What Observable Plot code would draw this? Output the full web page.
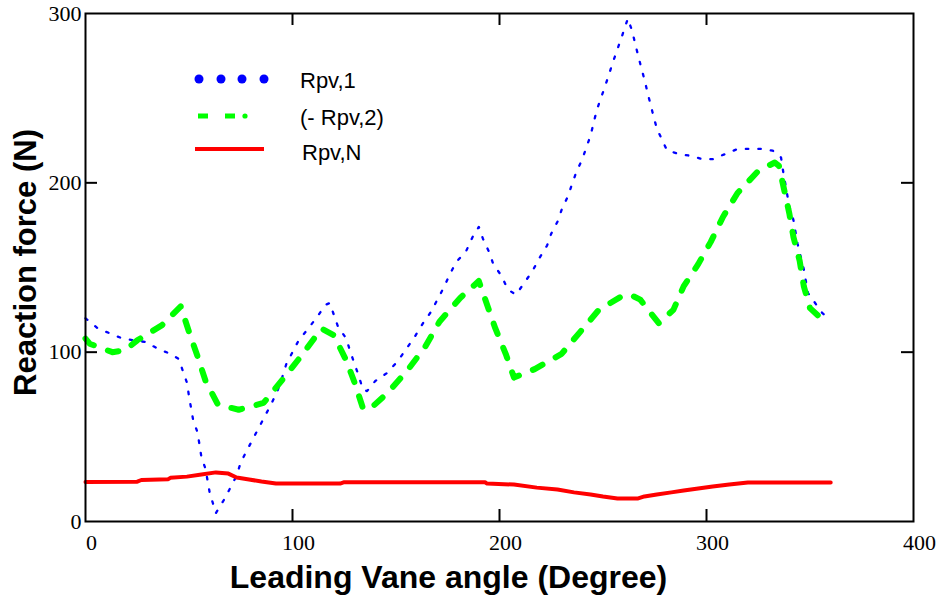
<!DOCTYPE html>
<html>
<head>
<meta charset="utf-8">
<script src="https://cdn.jsdelivr.net/npm/d3@7"></script>
<script src="https://cdn.jsdelivr.net/npm/@observablehq/plot@0.6"></script>
<style>
  html, body { margin: 0; padding: 0; background: #fff; }
  #wrap { position: relative; width: 941px; height: 600px; }
  #legend { position: absolute; left: 0; top: 0; pointer-events: none; }
</style>
</head>
<body>
<div id="wrap"></div>
<script>
// ---- data ----
const blueX = [0,6,12,18,29,35,41,45,47,49,50,51,52,54,55,56,58,59,60,62,63,67,70,73,75,78,81,84,87,90,93,95,97,100,103,107,112,116,118,120,122,126,128,130,132,134,136,140,146,151,155,159,163,167,170,173,176,179,184,187,190,192,195,197,201,204,208,212,216,219,223,225,228,230,233,237,240,244,247,251,255,259,262,264,267,270,273,276,281,287,292,298,303,309,315,321,327,332,336,337,340,342,344,347,349,356,359];
const blueY = [120,114,111,108,106,102,99,96,89,82,74,67,60,53,46,38,31,24,17,9,5,13,20,27,35,42,49,56,63,70,78,85,93,100,107,113,121,128,129,122,115,108,100,93,86,78,77,83,88,95,102,109,117,124,131,138,146,153,160,168,174,167,159,152,145,137,134,141,148,155,163,170,177,184,192,206,214,228,243,257,272,286,297,290,275,261,246,232,219,217,216,214,214,217,220,220,220,219,215,207,186,178,164,149,135,123,120];

const greenX = [0,2,13,19,25,37,46,50,54,58,64,74,86,96,105,114,120,126,130,134,137,146,156,164,171,181,190,194,198,203,207,217,230,239,248,259,263,268,277,284,289,296,302,308,315,325,333,335,340,342,345,347,350,358];
const greenY = [108,105,100,101,107,116,127,112,98,83,69,66,70,85,99,114,110,95,82,67,66,76,90,103,118,132,142,128,114,99,85,90,99,112,125,133,134,131,117,125,139,152,165,180,194,207,212,210,182,168,154,139,126,117];

const redX = [0,25,27,40,41,49,56,63,69,73,79,85,92,123,125,193,194,207,218,228,236,244,250,257,267,270,276,283,289,296,303,311,320,360];
const redY = [23.3,23.5,24.5,25,25.8,26.5,27.7,29,28.3,26,24.8,23.6,22.4,22.4,23.2,23.2,22.4,21.8,20,18.9,17.2,16,14.8,13.6,13.6,14.8,16,17.2,18.3,19.5,20.7,21.8,23,23];

const seriesNames = ["Rpv,1", "(- Rpv,2)", "Rpv,N"];
const xTickLabels = [0, 100, 200, 300, 400];
const yTickLabels = [0, 100, 200, 300];
const xTicks = [100, 200, 300];
const yTicks = [100, 200];
const xTitle = "Leading Vane angle (Degree)";
const yTitle = "Reaction force (N)";

// ---- build tables ----
const blue = blueX.map((x, i) => ({x, y: blueY[i]}));
const green = greenX.map((x, i) => ({x, y: greenY[i]}));
const red = redX.map((x, i) => ({x, y: redY[i]}));

const W = 941, H = 600;
const mL = 85, mR = 28, mT = 13, mB = 79;
const innerW = W - mL - mR, innerH = H - mT - mB;
const tickLen = 12;
const titleFont = "'Liberation Sans', Arial, sans-serif";

const chart = Plot.plot({
  width: W, height: H,
  marginLeft: mL, marginRight: mR, marginTop: mT, marginBottom: mB,
  x: {domain: [0, 400]},
  y: {domain: [0, 300]},
  style: {fontFamily: "'Liberation Serif', 'DejaVu Serif', serif", fontSize: "22px", color: "black", background: "white", overflow: "visible"},
  marks: [
    Plot.line(blue, {x: "x", y: "y", stroke: "#0000ff", strokeWidth: 2.3, strokeDasharray: "2.5,10"}),
    Plot.line(green, {x: "x", y: "y", stroke: "#00ff00", strokeWidth: 6, strokeDasharray: "11,15"}),
    Plot.line(red, {x: "x", y: "y", stroke: "#ff0000", strokeWidth: 4}),
    Plot.frame({stroke: "black", strokeWidth: 2}),
    Plot.tickX(xTicks, {x: d => d, insetTop: innerH - tickLen, stroke: "black", strokeWidth: 2}),
    Plot.tickX(xTicks, {x: d => d, insetBottom: innerH - tickLen, stroke: "black", strokeWidth: 2}),
    Plot.tickY(yTicks, {y: d => d, insetRight: innerW - tickLen, stroke: "black", strokeWidth: 2}),
    Plot.tickY(yTicks, {y: d => d, insetLeft: innerW - tickLen, stroke: "black", strokeWidth: 2}),
    Plot.axisX({ticks: xTickLabels, tickSize: 0, tickPadding: 13, dx: 6, label: null, tickFormat: d => String(d), fontSize: 22}),
    Plot.axisY({ticks: yTickLabels, tickSize: 0, tickPadding: 4, label: null, tickFormat: d => String(d), fontSize: 22}),
    Plot.text([xTitle], {frameAnchor: "bottom", text: d => d, textAnchor: "middle", dx: -51, dy: 56, lineAnchor: "middle", fontSize: 32, fontWeight: "bold", fontFamily: titleFont}),
    Plot.text([yTitle], {frameAnchor: "left", text: d => d, textAnchor: "middle", rotate: -90, dx: -59, dy: -5, lineAnchor: "middle", fontSize: 31, fontWeight: "bold", fontFamily: titleFont})
  ]
});

const wrap = document.getElementById("wrap");
wrap.appendChild(chart);

// ---- legend (inside plot, top-left) ----
const ns = "http://www.w3.org/2000/svg";
const leg = document.createElementNS(ns, "svg");
leg.setAttribute("id", "legend");
leg.setAttribute("width", W);
leg.setAttribute("height", H);
function el(tag, attrs, parent) {
  const e = document.createElementNS(ns, tag);
  for (const k in attrs) e.setAttribute(k, attrs[k]);
  (parent || leg).appendChild(e);
  return e;
}
// blue dots
[199, 221, 242, 264].forEach(cx => el("circle", {cx, cy: 79, r: 4.5, fill: "#0000ff"}));
// green dashes + dot
el("line", {x1: 198, x2: 208, y1: 116, y2: 116, stroke: "#00ff00", "stroke-width": 5});
el("line", {x1: 225, x2: 235, y1: 116, y2: 116, stroke: "#00ff00", "stroke-width": 5});
el("circle", {cx: 245, cy: 116, r: 2.6, fill: "#00ff00"});
// red line
el("line", {x1: 195, x2: 264, y1: 149, y2: 149, stroke: "#ff0000", "stroke-width": 4});
const labelPos = [[300, 80], [300, 117], [302, 152]];
seriesNames.forEach((name, i) => {
  const t = el("text", {x: labelPos[i][0], y: labelPos[i][1], "dominant-baseline": "central", "font-family": titleFont, "font-size": 22, fill: "black"});
  t.textContent = name;
});
wrap.appendChild(leg);
</script>
</body>
</html>
